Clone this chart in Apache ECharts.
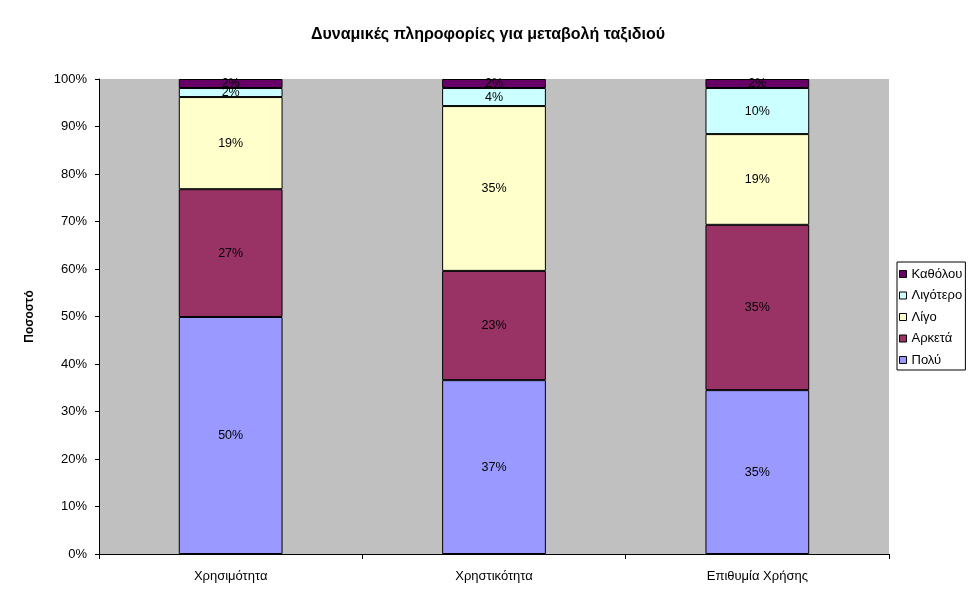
<!DOCTYPE html>
<html><head><meta charset="utf-8">
<script src="https://cdn.jsdelivr.net/npm/echarts@6/dist/echarts.min.js"></script>
<style>html,body{margin:0;padding:0;background:#fff}#c{width:977px;height:600px}</style>
</head><body><div id="c"></div>
<script>
const categories = ['Χρησιμότητα', 'Χρηστικότητα', 'Επιθυμία Χρήσης'];
const poly = [49.9, 36.6, 34.5];
const arketa = [26.9, 23.0, 34.8];
const ligo = [19.4, 34.7, 19.1];
const ligotero = [1.9, 3.8, 9.7];
const katholou = [1.9, 1.9, 1.9];
const yTicks = [0, 10, 20, 30, 40, 50, 60, 70, 80, 90, 100];

const font = 'Liberation Sans, Arial, sans-serif';
function mk(name, data, color) {
  return {
    name, type: 'bar', stack: 'all', data, barWidth: '39.4%',
    itemStyle: { color, borderColor: '#000', borderWidth: 1 },
    label: { show: true, position: 'inside', color: '#000', fontSize: 12.5, fontFamily: font,
      formatter: p => Math.round(p.value) + '%' }
  };
}
const chart = echarts.init(document.getElementById('c'), null, { renderer: 'canvas' });
chart.setOption({
  animation: false,
  title: { text: 'Δυναμικές πληροφορίες για μεταβολή ταξιδιού', left: 483, textAlign: 'center', top: 22,
    textStyle: { fontSize: 16, fontWeight: 'bold', fontFamily: font, color: '#000' } },
  grid: { left: 99, right: 88, top: 79, bottom: 46, show: true, backgroundColor: '#C0C0C0', borderWidth: 0 },
  legend: {
    orient: 'vertical', left: 897, top: 262,
    data: ['Καθόλου', 'Λιγότερο', 'Λίγο', 'Αρκετά', 'Πολύ'],
    icon: 'rect', itemWidth: 7, itemHeight: 7, itemGap: 7.5,
    padding: [5, 3, 3, 2], borderColor: '#000', borderWidth: 1,
    textStyle: { fontSize: 13, fontFamily: font, color: '#000', lineHeight: 14 },
    itemStyle: { borderColor: '#000', borderWidth: 1 }
  },
  xAxis: {
    type: 'category', data: categories,
    axisLine: { lineStyle: { color: '#000' } },
    axisTick: { show: true, length: 5, lineStyle: { color: '#000' } },
    axisLabel: { color: '#000', fontSize: 13, fontFamily: font, margin: 16 }
  },
  yAxis: {
    type: 'value', min: 0, max: 100, interval: 10,
    name: 'Ποσοστό', nameLocation: 'middle', nameGap: 63, nameRotate: 90,
    nameTextStyle: { fontWeight: 'bold', fontSize: 12, fontFamily: font, color: '#000' },
    axisLine: { show: true, lineStyle: { color: '#000' } },
    axisTick: { show: true, length: 4, lineStyle: { color: '#000' } },
    splitLine: { show: false },
    axisLabel: { color: '#000', fontSize: 13, fontFamily: font, margin: 12,
      formatter: v => yTicks.includes(v) ? v + '%' : '' }
  },
  series: [
    mk('Πολύ', poly, '#9999FF'),
    mk('Αρκετά', arketa, '#993366'),
    mk('Λίγο', ligo, '#FFFFCC'),
    mk('Λιγότερο', ligotero, '#CCFFFF'),
    mk('Καθόλου', katholou, '#660066')
  ]
});
</script></body></html>
